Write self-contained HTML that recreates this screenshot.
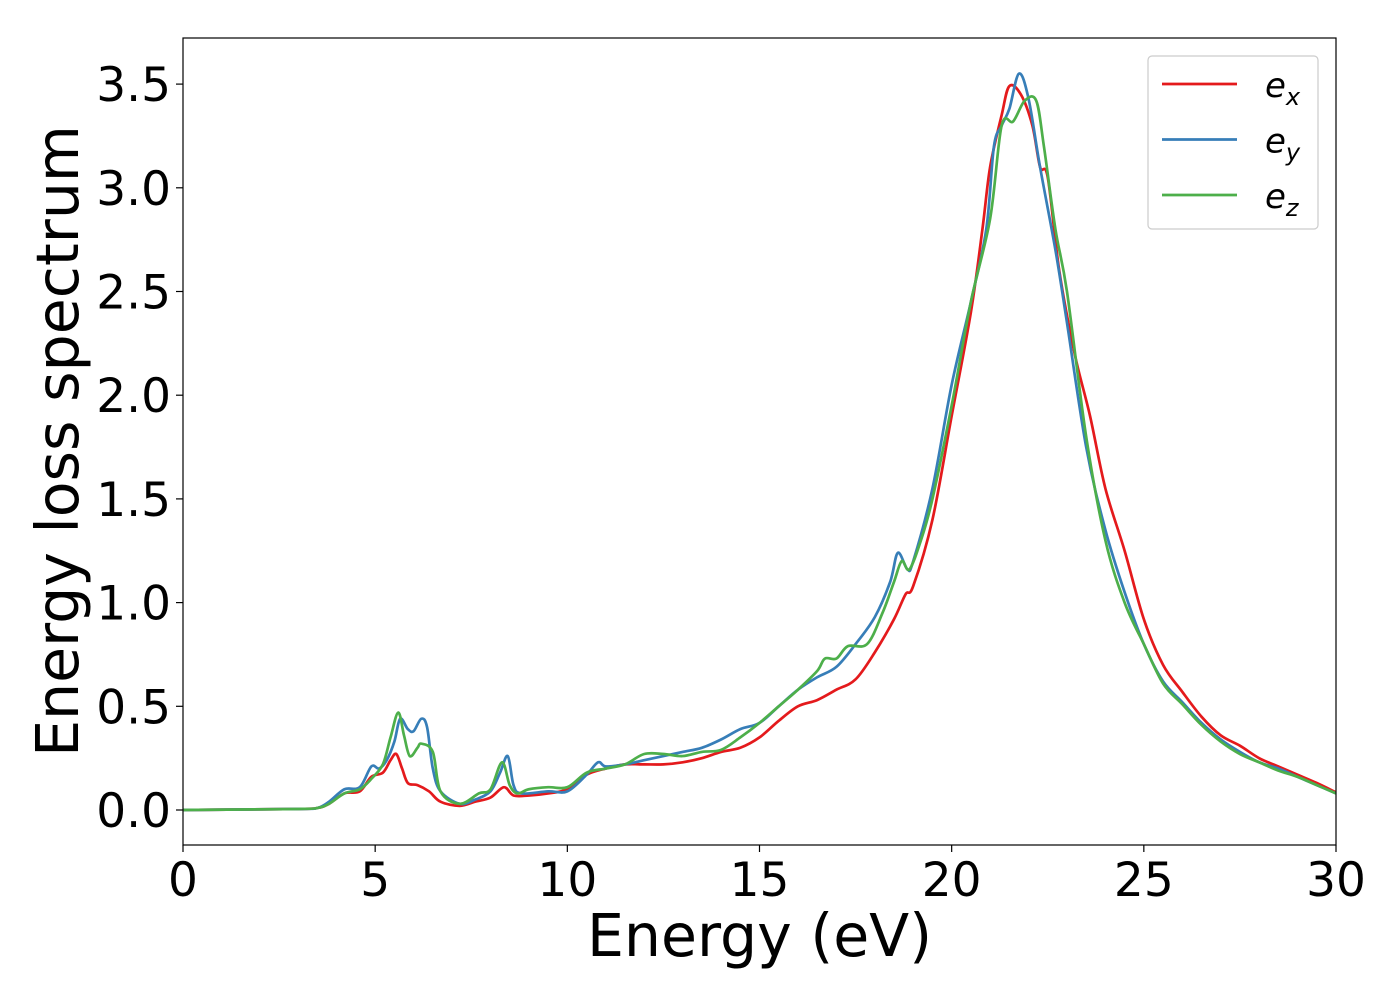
<!DOCTYPE html>
<html><head><meta charset="utf-8"><style>body{margin:0;background:#fff}svg{display:block;font-family:"DejaVu Sans","Liberation Sans",sans-serif}</style></head>
<body>
<svg id="chart" width="1400" height="1000"></svg>
<script>
const xTicks=[0,5,10,15,20,25,30];
const yTicks=[0.0,0.5,1.0,1.5,2.0,2.5,3.0,3.5];
const exX=[0,3,3.5,3.8,4.2,4.6,4.9,5.2,5.4,5.55,5.7,5.85,6.1,6.4,6.7,7.2,7.6,8,8.35,8.6,9,9.5,10,10.5,11,11.5,12,12.5,13,13.5,14,14.5,15,15.5,16,16.5,17,17.5,18,18.5,18.8,19,19.5,20,20.5,20.8,21,21.3,21.5,21.8,22.1,22.3,22.5,22.8,23.2,23.6,24,24.5,25,25.5,26,26.5,27,27.5,28,28.5,29,29.5,30];
const exY=[0,0.005,0.01,0.03,0.08,0.09,0.16,0.18,0.24,0.27,0.2,0.13,0.12,0.09,0.04,0.02,0.04,0.06,0.11,0.07,0.07,0.08,0.1,0.17,0.2,0.22,0.22,0.22,0.23,0.25,0.28,0.3,0.35,0.43,0.5,0.53,0.58,0.63,0.76,0.92,1.04,1.08,1.4,1.9,2.4,2.8,3.1,3.35,3.49,3.45,3.3,3.1,3.05,2.6,2.2,1.9,1.55,1.25,0.92,0.7,0.57,0.45,0.36,0.31,0.25,0.21,0.17,0.13,0.085];
const eyX=[0,3,3.5,3.8,4.2,4.6,4.9,5.1,5.3,5.5,5.65,5.85,6,6.2,6.35,6.5,6.7,7.2,7.6,8,8.25,8.45,8.6,8.8,9.5,10,10.5,10.8,11,11.5,12,12.5,13,13.5,14,14.5,15,15.5,16,16.5,17,17.5,18,18.4,18.6,18.85,19,19.5,20,20.5,20.9,21.1,21.3,21.5,21.75,22,22.3,22.7,23,23.5,24,24.5,25,25.5,26,26.5,27,27.5,28,28.5,29,29.5,30];
const eyY=[0,0.005,0.01,0.04,0.1,0.11,0.21,0.2,0.24,0.33,0.44,0.39,0.38,0.44,0.4,0.2,0.09,0.03,0.05,0.09,0.18,0.26,0.12,0.08,0.09,0.09,0.17,0.23,0.21,0.22,0.24,0.26,0.28,0.3,0.34,0.39,0.42,0.5,0.58,0.64,0.69,0.8,0.93,1.1,1.24,1.16,1.2,1.55,2.05,2.45,2.8,3.2,3.3,3.38,3.55,3.43,3.1,2.7,2.35,1.75,1.35,1.05,0.8,0.62,0.52,0.42,0.34,0.28,0.23,0.2,0.16,0.12,0.08];
const ezX=[0,3,3.5,3.8,4.2,4.6,4.9,5.2,5.4,5.6,5.75,5.9,6.1,6.2,6.5,6.7,7.2,7.7,8,8.3,8.5,8.7,9,9.5,10,10.5,11,11.5,12,12.5,13,13.5,14,14.5,15,15.5,16,16.5,16.7,17,17.3,17.8,18.2,18.5,18.7,18.9,19.2,19.5,20,20.5,21,21.3,21.6,21.9,22.2,22.4,22.7,23,23.5,24,24.5,25,25.5,26,26.5,27,27.5,28,28.5,29,29.5,30];
const ezY=[0,0.005,0.01,0.03,0.08,0.1,0.15,0.22,0.35,0.47,0.36,0.26,0.3,0.32,0.28,0.09,0.03,0.08,0.1,0.23,0.12,0.08,0.1,0.11,0.11,0.18,0.2,0.22,0.27,0.27,0.26,0.28,0.29,0.35,0.42,0.5,0.58,0.67,0.73,0.73,0.79,0.8,0.95,1.1,1.2,1.16,1.3,1.5,1.95,2.45,2.85,3.3,3.32,3.42,3.42,3.2,2.8,2.5,1.8,1.3,1.0,0.8,0.61,0.51,0.41,0.33,0.27,0.23,0.19,0.16,0.12,0.08];
const L=183,R=1336,T=38,B=845;
const sx=v=>L+(v-0)/30*(R-L);
const sy=v=>810-v*207.4;
const svg=document.getElementById('chart');
const NS='http://www.w3.org/2000/svg';
function mk(tag,at,parent){const e=document.createElementNS(NS,tag);for(const k in at)e.setAttribute(k,at[k]);(parent||svg).appendChild(e);return e;}
function path(xs,ys){const p=xs.map((x,i)=>[sx(x),sy(ys[i])]);let d='M'+p[0][0]+','+p[0][1];
for(let i=0;i<p.length-1;i++){const p0=p[Math.max(0,i-1)],p1=p[i],p2=p[i+1],p3=p[Math.min(p.length-1,i+2)];
d+=' C'+(p1[0]+(p2[0]-p0[0])/6)+','+(p1[1]+(p2[1]-p0[1])/6)+' '+(p2[0]-(p3[0]-p1[0])/6)+','+(p2[1]-(p3[1]-p1[1])/6)+' '+p2[0]+','+p2[1];}return d;}
const series=[{n:'ex',x:exX,y:exY,c:'#e41a1c',s:'x'},{n:'ey',x:eyX,y:eyY,c:'#377eb8',s:'y'},{n:'ez',x:ezX,y:ezY,c:'#4daf4a',s:'z'}];
const g=mk('g',{});


series.forEach(s=>{const e=mk('path',{d:path(s.x,s.y),fill:'none',stroke:s.c,'stroke-width':2.7},g);

});
const frame=mk('rect',{x:L,y:T,width:R-L,height:B-T,fill:'none',stroke:'#000','stroke-width':1.2});


xTicks.forEach(v=>{mk('line',{x1:sx(v),x2:sx(v),y1:B,y2:B+7,stroke:'#000','stroke-width':1.2});
const t=mk('text',{x:sx(v),y:B+51,'font-size':47,'text-anchor':'middle'});t.textContent=v;

});
yTicks.forEach(v=>{mk('line',{x1:L-7,x2:L,y1:sy(v),y2:sy(v),stroke:'#000','stroke-width':1.2});
const t=mk('text',{x:L-12,y:sy(v)+17,'font-size':47,'text-anchor':'end'});t.textContent=v.toFixed(1);

});
const xt=mk('text',{x:(L+R)/2,y:956,'font-size':58.5,'text-anchor':'middle'});xt.textContent='Energy (eV)';


const yt=mk('text',{x:0,y:0,'font-size':58.5,'text-anchor':'middle',transform:'translate(78,441) rotate(-90)'});yt.textContent='Energy loss spectrum';


const lg=mk('g',{});


mk('rect',{x:1148,y:56,width:170,height:173,rx:4,fill:'#fff',stroke:'#ccc','stroke-width':1.2},lg);
series.forEach((s,i)=>{const y=84+i*55.5;mk('line',{x1:1162,x2:1237,y1:y,y2:y,stroke:s.c,'stroke-width':2.7},lg);
const t=mk('text',{x:1265,y:y+13,'font-size':34,'font-style':'italic'},lg);t.textContent='e';
const sub=mk('tspan',{'font-size':24,dy:8},t);sub.textContent=s.s;

});
</script>
</body></html>
